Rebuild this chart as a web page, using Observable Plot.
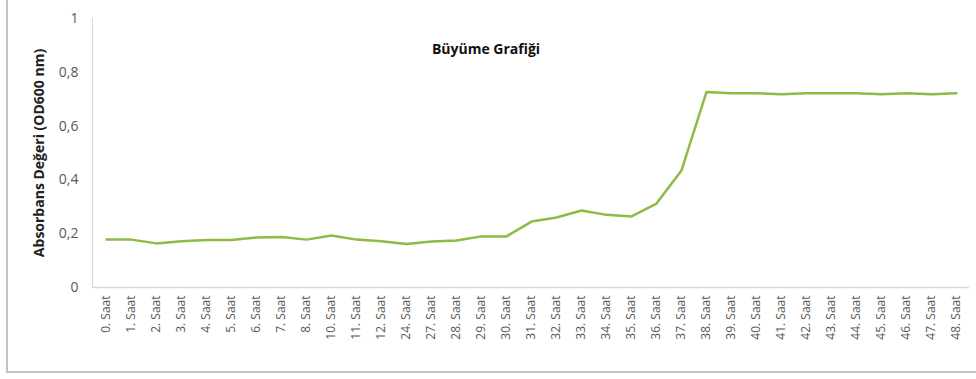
<!DOCTYPE html>
<html>
<head>
<meta charset="utf-8">
<script src="https://cdn.jsdelivr.net/npm/d3@7"></script>
<script src="https://cdn.jsdelivr.net/npm/@observablehq/plot@0.6"></script>
<style>
  body { margin: 0; background: #fff; }
  #wrap { position: relative; width: 976px; height: 379px; }
  #frame { position: absolute; left: 6px; top: 0; width: 970px; height: 373px;
           border-left: 2px solid #c4c4c4; border-bottom: 2px solid #c4c4c4; pointer-events: none; box-sizing: border-box; }
  svg text { font-family: "Open Sans", Lato, sans-serif; }
  g[aria-label="y-axis label"] text { font-weight: bold; fill: #222; font-size: 14px; }
</style>
</head>
<body>
<div id="wrap"><div id="frame"></div></div>
<script>
const hours = [0,1,2,3,4,5,6,7,8,10,11,12,24,27,28,29,30,31,32,33,34,35,36,37,38,39,40,41,42,43,44,45,46,47,48];
const labels = hours.map(h => h + ". Saat");
const absorbance = [0.178,0.178,0.164,0.172,0.177,0.177,0.186,0.188,0.178,0.193,0.178,0.172,0.162,0.171,0.175,0.19,0.19,0.245,0.26,0.286,0.27,0.264,0.312,0.435,0.727,0.722,0.722,0.718,0.722,0.722,0.722,0.718,0.722,0.718,0.722];
const yTicks = [0,0.2,0.4,0.6,0.8,1];
const title = "Büyüme Grafiği";
const yLabel = "Absorbans Değeri (OD600 nm)";

const data = labels.map((l, i) => ({label: l, value: absorbance[i]}));

const chart = Plot.plot({
  width: 976,
  height: 379,
  marginLeft: 92,
  marginRight: 7,
  marginTop: 18,
  marginBottom: 92,
  style: {background: "#fff", color: "#595959", fontSize: "11px"},
  x: {type: "point", domain: labels, padding: 0.5},
  y: {domain: [0, 1]},
  marks: [
    Plot.frame({anchor: "left", stroke: "#d9d9d9"}),
    Plot.ruleY([0], {stroke: "#d9d9d9", strokeWidth: 1.5}),
    Plot.axisY({ticks: yTicks, tickSize: 0, tickPadding: 14, tickFormat: d => String(d).replace(".", ","),
      fontSize: 14, label: yLabel, labelAnchor: "center", labelArrow: "none", labelOffset: 58}),
    Plot.axisX({tickSize: 0, tickRotate: -90, tickPadding: 8, fontSize: 12, label: null}),
    Plot.line(data, {x: "label", y: "value", stroke: "#8dbb45", strokeWidth: 2.5}),
    Plot.text([title], {frameAnchor: "top", dy: 26, dx: -45, fontWeight: "bold", fontSize: 14, fill: "#111"})
  ]
});
document.getElementById("wrap").prepend(chart);
</script>
</body>
</html>
